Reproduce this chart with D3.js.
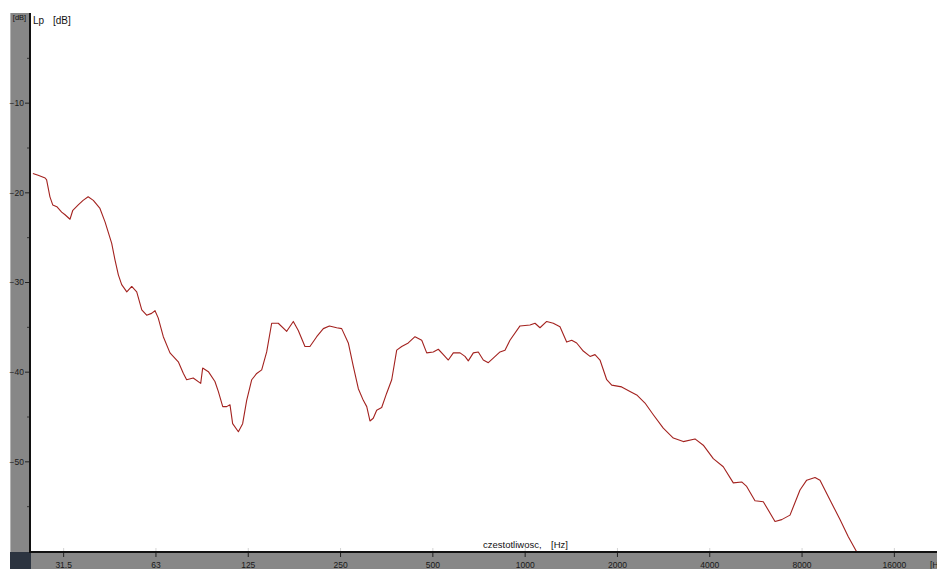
<!DOCTYPE html>
<html>
<head>
<meta charset="utf-8">
<script src="https://cdn.jsdelivr.net/npm/d3@7"></script>
<style>
  html, body { margin: 0; padding: 0; background: #ffffff; }
  svg { display: block; }
  text { font-family: Arial, "Liberation Sans", sans-serif; }
</style>
</head>
<body>
<svg id="chart" width="937" height="569"></svg>
<script>
// ---- data ----
const freqs = [24.9, 25.9, 27.3, 27.6, 28.3, 28.9, 29.8, 30.9, 31.7, 32.9,
  33.6, 35.0, 36.3, 37.7, 39.2, 41.2, 42.8, 45.0, 46.1, 47.3,
  48.5, 50.4, 52.3, 54.3, 56.4, 58.5, 60.7, 62.3, 63.8, 66.3,
  69.7, 74.2, 77.1, 79.0, 83.0, 87.8, 89.1, 93.0, 97.7, 100.2,
  103.6, 106.7, 109.4, 111.6, 116.5, 120.3, 124.0, 128.8, 133.7, 138.8,
  144.1, 149.6, 157.2, 167.5, 176.0, 182.7, 192.1, 199.4, 209.8, 220.5,
  230.8, 243.8, 253.1, 266.0, 276.2, 286.8, 297.7, 305.5, 313.0, 320.8,
  329.2, 341.8, 354.8, 368.5, 382.6, 397.2, 417.3, 438.9, 461.7, 479.3,
  503.5, 522.9, 543.0, 563.7, 585.2, 615.6, 638.9, 654.9, 680.2, 706.0,
  733.0, 761.2, 790.0, 831.0, 862.7, 895.6, 965.7, 1041, 1081, 1122,
  1180, 1240, 1304, 1371, 1424, 1478, 1553, 1634, 1696, 1761,
  1852, 1923, 2072, 2206, 2320, 2469, 2628, 2832, 3054, 3292,
  3594, 3825, 4123, 4444, 4792, 5103, 5298, 5639, 6002, 6554,
  6892, 7336, 7907, 8315, 8850, 9189, 9906, 10678, 11365, 12105];
const levels = [-17.9, -18.1, -18.4, -18.6, -20.5, -21.4, -21.6, -22.2, -22.5, -23.0,
  -22.0, -21.4, -20.9, -20.5, -20.9, -21.8, -23.3, -25.7, -27.5, -29.2,
  -30.3, -31.1, -30.5, -31.1, -33.1, -33.7, -33.5, -33.2, -34.0, -36.1,
  -37.9, -38.9, -40.2, -40.9, -40.7, -41.3, -39.6, -40.0, -41.1, -42.2,
  -43.9, -43.9, -43.7, -45.8, -46.7, -45.8, -43.2, -40.9, -40.2, -39.8,
  -37.8, -34.6, -34.6, -35.5, -34.4, -35.4, -37.2, -37.2, -36.1, -35.2,
  -34.9, -35.1, -35.2, -36.8, -39.4, -41.9, -43.2, -43.9, -45.5, -45.2,
  -44.3, -44.0, -42.4, -40.9, -37.6, -37.2, -36.8, -36.1, -36.5, -37.9,
  -37.8, -37.5, -38.1, -38.7, -37.9, -37.9, -38.3, -38.8, -37.9, -37.8,
  -38.7, -39.0, -38.5, -37.8, -37.6, -36.5, -34.9, -34.8, -34.6, -35.1,
  -34.4, -34.6, -35.0, -36.7, -36.5, -36.8, -37.7, -38.3, -38.1, -38.7,
  -40.9, -41.5, -41.7, -42.2, -42.6, -43.5, -44.8, -46.3, -47.4, -47.8,
  -47.5, -48.2, -49.7, -50.6, -52.4, -52.3, -52.8, -54.4, -54.5, -56.7,
  -56.5, -56.0, -53.2, -52.1, -51.8, -52.1, -54.3, -56.5, -58.4, -60.1];
const xTickValues = [31.25, 62.5, 125, 250, 500, 1000, 2000, 4000, 8000, 16000];
const xTickLabels = ["31.5", "63", "125", "250", "500", "1000", "2000", "4000", "8000", "16000"];
const yTickValues = [-10, -20, -30, -40, -50];
const yMinorValues = [-5, -15, -25, -35, -45, -55];

// ---- layout ----
const W = 937, H = 569;
const plotLeft = 31, plotRight = 937, plotTop = 13, plotBottom = 552;
const svg = d3.select("#chart");

const x = d3.scaleLog().domain([31.25, 16000]).range([63.15, 893.85]);
const y = d3.scaleLinear().domain([0, -60]).range([plotTop, 551]);

// left gray panel
svg.append("rect").attr("x", 10).attr("y", plotTop).attr("width", 20).attr("height", plotBottom - plotTop)
  .attr("fill", "#878787");
svg.append("line").attr("x1", 10.5).attr("x2", 10.5).attr("y1", plotTop).attr("y2", plotBottom)
  .attr("stroke", "#b4b4b4").attr("stroke-width", 1);
// bottom gray band
svg.append("rect").attr("x", 31).attr("y", plotBottom).attr("width", W - 31).attr("height", H - plotBottom)
  .attr("fill", "#878787");
// dark corner
svg.append("rect").attr("x", 10).attr("y", plotBottom).attr("width", 21).attr("height", H - plotBottom)
  .attr("fill", "#2c3440");

// y axis
const yAxis = d3.axisLeft(y).tickValues(yTickValues).tickSize(5).tickPadding(1)
  .tickFormat(d => d3.format("d")(d));
const gy = svg.append("g").attr("transform", "translate(30,0)").call(yAxis);
gy.select(".domain").remove();
gy.selectAll(".tick line").attr("stroke", "#222").attr("stroke-width", 1);
gy.selectAll(".tick text").attr("fill", "#1a1a1a").attr("font-size", 8.5)
  .attr("font-family", "Arial, 'Liberation Sans', sans-serif");
const gyMinor = svg.append("g").attr("transform", "translate(30,0)")
  .call(d3.axisLeft(y).tickValues(yMinorValues).tickSize(3).tickFormat(""));
gyMinor.select(".domain").remove();
gyMinor.selectAll(".tick line").attr("stroke", "#333");

// x axis
const xAxis = d3.axisBottom(x).tickValues(xTickValues).tickSize(4).tickPadding(5)
  .tickFormat((d, i) => xTickLabels[i]);
const gx = svg.append("g").attr("transform", `translate(0,${plotBottom + 1})`).call(xAxis);
gx.select(".domain").remove();
gx.selectAll(".tick line").attr("stroke", "#222");
gx.selectAll(".tick text").attr("fill", "#1a1a1a").attr("font-size", 8.5)
  .attr("font-family", "Arial, 'Liberation Sans', sans-serif");
// faint ticks above the axis line
const gxUp = svg.append("g").attr("transform", `translate(0,${plotBottom - 1})`)
  .call(d3.axisTop(x).tickValues(xTickValues).tickSize(3).tickFormat(""));
gxUp.select(".domain").remove();
gxUp.selectAll(".tick line").attr("stroke", "#d4d4d4");

// axis lines
svg.append("line").attr("x1", 30).attr("x2", 30).attr("y1", plotTop).attr("y2", plotBottom + 1)
  .attr("stroke", "#111").attr("stroke-width", 2);
svg.append("line").attr("x1", 30).attr("x2", W).attr("y1", plotBottom).attr("y2", plotBottom)
  .attr("stroke", "#111").attr("stroke-width", 2);

// texts
svg.append("text").attr("x", 19.5).attr("y", 20).attr("text-anchor", "middle")
  .attr("font-size", 7.5).attr("fill", "#111").text("[dB]");
svg.append("text").attr("x", 33).attr("y", 24).attr("font-size", 10).attr("fill", "#111").text("Lp");
svg.append("text").attr("x", 53).attr("y", 24).attr("font-size", 10).attr("fill", "#111").text("[dB]");
svg.append("text").attr("x", 483).attr("y", 548).attr("font-size", 9.5).attr("fill", "#111").text("czestotliwosc,");
svg.append("text").attr("x", 551).attr("y", 548).attr("font-size", 9.5).attr("fill", "#111").text("[Hz]");
svg.append("text").attr("x", 930).attr("y", 567.5).attr("font-size", 8.5).attr("fill", "#1a1a1a").text("[Hz]");

// curve
svg.append("clipPath").attr("id", "plotclip").append("rect")
  .attr("x", plotLeft + 1).attr("y", plotTop).attr("width", plotRight - plotLeft).attr("height", plotBottom - plotTop - 1);
const data = freqs.map((f, i) => ({ f: f, v: levels[i] }));
const line = d3.line().x(d => x(d.f)).y(d => y(d.v)).curve(d3.curveLinear);
svg.append("path").datum(data).attr("clip-path", "url(#plotclip)")
  .attr("d", line).attr("fill", "none").attr("stroke", "#a3221f").attr("stroke-width", 1.1)
  .attr("stroke-linejoin", "round");
</script>
</body>
</html>
